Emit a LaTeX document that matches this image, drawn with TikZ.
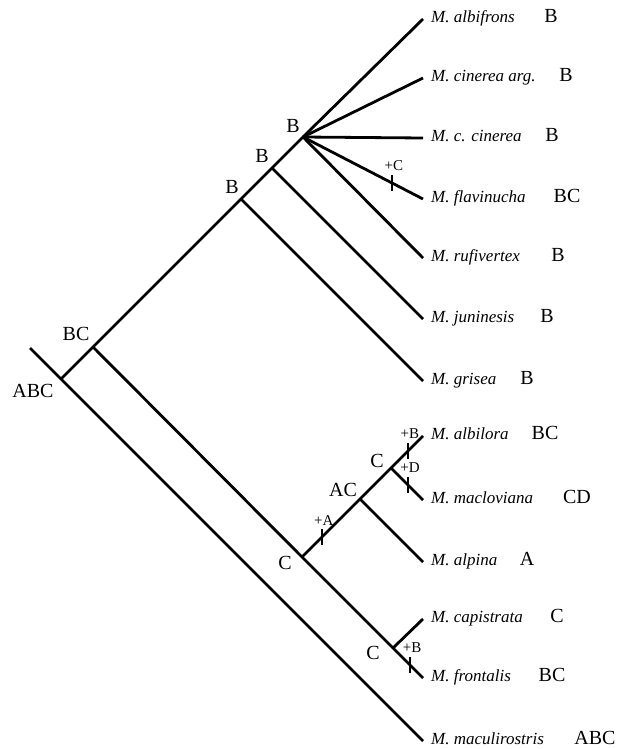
\documentclass[tikz,border=0pt]{standalone}
\usepackage{fontspec}
\setmainfont{Liberation Serif}
\begin{document}
\begin{tikzpicture}[x=1pt, y=-1pt,
    % branches of the tree
    branch/.style={line width=2.8pt},
    % short bars where a state is gained
    tick/.style={line width=1.7pt},
    % species names
    taxon/.style={
        anchor=west,
        inner xsep=8pt,
        text height=11pt,
        text depth=4pt,
        font=\fontsize{17}{19}\selectfont\itshape
    },
    % state sets, tips and inner nodes
    state/.style={font=\fontsize{20}{23}\selectfont},
    inner_state/.style={font=\fontsize{20}{23}\selectfont, inner sep=1pt},
    % +A, +B ... labels
    gain/.style={font=\fontsize{15}{17}\selectfont, inner sep=1pt}
]
    \useasboundingbox (0,0) rectangle (620,749);

    % ================== inner nodes ==================
    \coordinate (top) at (30,348);
    \coordinate (root) at (61,379);
    \coordinate (bc) at (93,347);
    \coordinate (b1) at (241,199);
    \coordinate (b2) at (272,168);
    \coordinate (b3) at (303,137);
    \coordinate (c1) at (302,557);
    \coordinate (ac) at (360,499);
    \coordinate (c2) at (391,468);
    \coordinate (c3) at (393,648);

    % ================== species ==================
    \node[taxon] (albi) at (423,19) {M. albifrons};
    \node[taxon] (cina) at (423,78) {M. cinerea arg.};
    \node[taxon] (ccin) at (423,138) {M. c. cinerea};
    \node[taxon] (flav) at (423,199) {M. flavinucha};
    \node[taxon] (rufi) at (423,258) {M. rufivertex};
    \node[taxon] (juni) at (423,319) {M. juninesis};
    \node[taxon] (gris) at (423,381) {M. grisea};
    \node[taxon] (albl) at (423,436) {M. albilora};
    \node[taxon] (macl) at (423,500) {M. macloviana};
    \node[taxon] (alpi) at (423,562) {M. alpina};
    \node[taxon] (capi) at (423,619) {M. capistrata};
    \node[taxon] (fron) at (423,678) {M. frontalis};
    \node[taxon] (macu) at (423,741) {M. maculirostris};

    % states at the tips
    \node[state, anchor=base] (s_albi) at (551,22.5) {B};
    \node[state, anchor=base] (s_cina) at (566,81.5) {B};
    \node[state, anchor=base] (s_ccin) at (552,141.5) {B};
    \node[state, anchor=base] (s_flav) at (567,202.5) {BC};
    \node[state, anchor=base] (s_rufi) at (558,261.5) {B};
    \node[state, anchor=base] (s_juni) at (547,322.5) {B};
    \node[state, anchor=base] (s_gris) at (527,384.5) {B};
    \node[state, anchor=base] (s_albl) at (545,439.5) {BC};
    \node[state, anchor=base] (s_macl) at (577,503.5) {CD};
    \node[state, anchor=base] (s_alpi) at (527,565.5) {A};
    \node[state, anchor=base] (s_capi) at (557,622.5) {C};
    \node[state, anchor=base] (s_fron) at (552,681.5) {BC};
    \node[state, anchor=base] (s_macu) at (595,744.5) {ABC};

    % states at inner nodes
    \node[inner_state] (l_root) at (33,391) {ABC};
    \node[inner_state] (l_bc) at (76,334) {BC};
    \node[inner_state] (l_b1) at (232,187) {B};
    \node[inner_state] (l_b2) at (262,156) {B};
    \node[inner_state] (l_b3) at (293,126) {B};
    \node[inner_state] (l_c1) at (285,563) {C};
    \node[inner_state] (l_ac) at (343,490) {AC};
    \node[inner_state] (l_c2) at (377,461) {C};
    \node[inner_state] (l_c3) at (373,653) {C};

    % ================== branches ==================
    \draw[branch] (top) -- (root) -- (macu.west);
    \draw[branch] (root) -- (bc) -- (b1) -- (b2) -- (b3) -- (albi.west);
    \draw[branch] (b1) -- (gris.west);
    \draw[branch] (b2) -- (juni.west);
    \draw[branch] (b3) -- (cina.west);
    \draw[branch] (b3) -- (ccin.west);
    \draw[branch] (b3) -- coordinate[pos=0.74] (g_c) (flav.west);
    \draw[branch] (b3) -- (rufi.west);

    \draw[branch] (bc) -- (c1) -- (c3) -- coordinate[pos=0.57] (g_b2) (fron.west);
    \draw[branch] (c3) -- (capi.west);
    \draw[branch] (c1) -- coordinate[pos=0.34] (g_a) (ac) -- (c2)
        -- coordinate[pos=0.53] (g_b1) (albl.west);
    \draw[branch] (c2) -- coordinate[pos=0.53] (g_d) (macl.west);
    \draw[branch] (ac) -- (alpi.west);

    % ================== gained states ==================
    \foreach \g/\t in {g_c/+C, g_a/+A, g_b1/+B, g_d/+D, g_b2/+B} {
        \draw[tick] ([yshift=8pt]\g) -- ([yshift=-8pt]\g);
        \node[gain] at ([xshift=2pt, yshift=17pt]\g) {\t};
    }

\end{tikzpicture}
\end{document}
